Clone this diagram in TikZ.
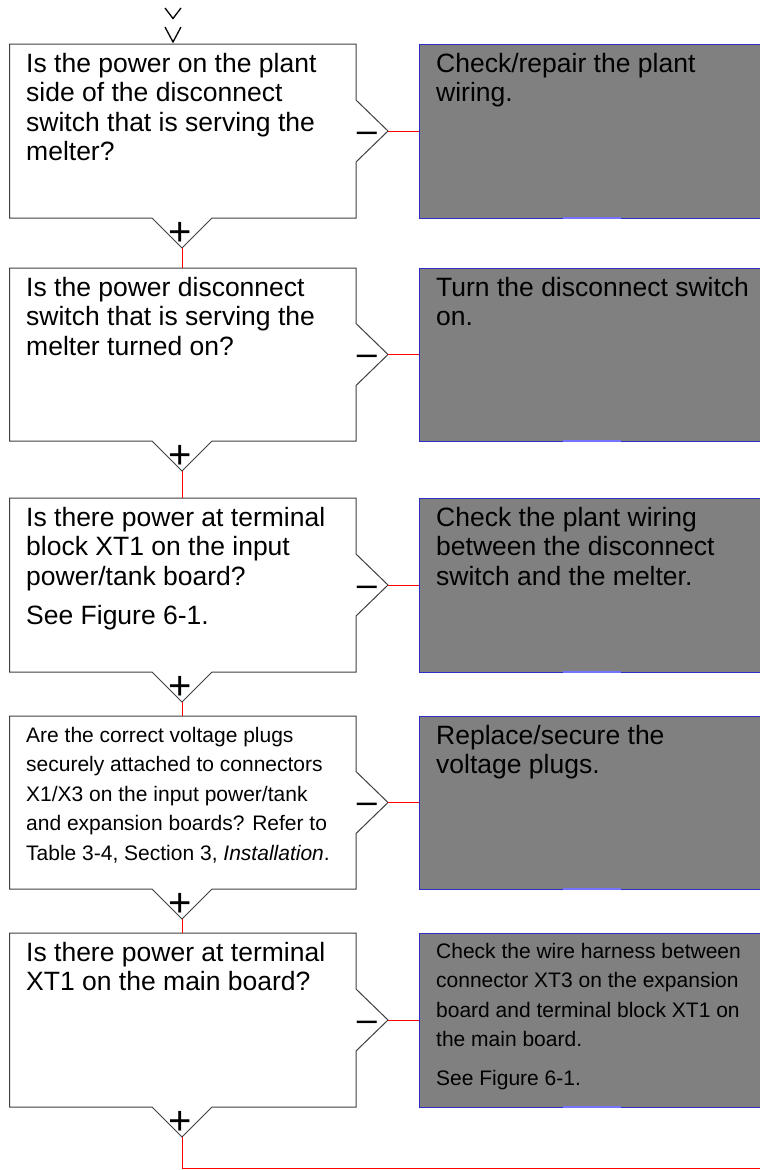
\documentclass[tikz,border=0pt]{standalone}
\usepackage{fontspec}
\setmainfont{Liberation Sans}
\definecolor{boxblue}{HTML}{2E2EC4}
\definecolor{lightblue}{HTML}{7474FF}
\definecolor{fillgray}{HTML}{808080}
\definecolor{qline}{HTML}{404040}
\newcommand\bigtxt{\fontsize{26.5}{29.5}\selectfont}
\newcommand\smalltxt{\fontsize{21}{29.5}\selectfont}
\tikzset{
  qshape/.style={draw=qline, line width=1pt, fill=white, line join=miter},
  ashape/.style={draw=boxblue, line width=1.2pt, fill=fillgray, inner sep=0pt, anchor=north west, minimum width=360pt},
  seam/.style={draw=lightblue, line width=1.2pt},
  link/.style={draw=red, line width=1pt},
  txt/.style={anchor=base west, inner sep=0pt},
  plussign/.style={inner sep=0pt, anchor=base, font=\fontsize{40}{40}\selectfont},
  minussign/.style={inner sep=0pt, anchor=base, font=\fontsize{36}{36}\selectfont},
  chev/.style={draw=black, line width=1.3pt},
}
% question box outline: name, top, bottom
\newcommand\qoutline[3]{%
  \pgfmathsetmacro\qmid{(#2+#3)/2}%
  \draw[qshape] (9.5,#2) -- (356,#2) -- (356,\qmid-31) -- (388,\qmid) -- (356,\qmid+31)
     -- (356,#3) -- (212,#3) -- (182,#3+30) -- (152,#3) -- (9.5,#3) -- cycle;
  \coordinate (#1-top) at (182,#2);
  \coordinate (#1-yes) at (182,#3+30);
  \coordinate (#1-no) at (388,\qmid);
  \node[plussign] (#1-plus) at (180,#3+27) {+};
  \node[minussign] (#1-minus) at (367,\qmid+11) {–};
}
% answer box: name, top, bottom
\newcommand\abox[3]{%
  \pgfmathsetmacro\ah{#3-#2}%
  \node[ashape, minimum height=\ah pt] (#1) at (419,#2) {};
  \draw[seam] (563,#3) -- (621,#3);
}
\begin{document}
\begin{tikzpicture}[x=1pt,y=-1pt]
\useasboundingbox (0,0) rectangle (760,1170);
\clip (0,0) rectangle (760,1170);
\fill[white] (0,0) rectangle (760,1170);

% incoming chevrons
\draw[chev] (165,8) -- (173,18.5) -- (181,8);
\draw[chev] (165,27) -- (173,42) -- (181,27);

% question boxes
\qoutline{q1}{44}{218}
\qoutline{q2}{268}{441}
\qoutline{q3}{498}{672}
\qoutline{q4}{716}{889}
\qoutline{q5}{933}{1107}

% answer boxes
\abox{a1}{44}{218}
\abox{a2}{268}{441}
\abox{a3}{498}{672}
\abox{a4}{716}{889}
\abox{a5}{933}{1107}

% question texts
\node[txt] (q1t) at (26,72) {\parbox[t]{330pt}{\bigtxt\raggedright
  Is the power on the plant\\side of the disconnect\\switch that is serving the\\melter?}};
\node[txt] (q2t) at (26,296) {\parbox[t]{330pt}{\bigtxt\raggedright
  Is the power disconnect\\switch that is serving the\\melter turned on?}};
\node[txt] (q3t) at (26,526) {\parbox[t]{330pt}{\bigtxt\raggedright
  Is there power at terminal\\block XT1 on the input\\power/tank board?\\[9.5pt]See Figure 6-1.}};
\node[txt] (q4t) at (26,742) {\parbox[t]{330pt}{\smalltxt\raggedright
  Are the correct voltage plugs\\securely attached to connectors\\X1/X3 on the input power/tank\\and expansion boards? Refer to\\Table 3-4, Section 3, \textit{Installation}.}};
\node[txt] (q5t) at (26,961) {\parbox[t]{330pt}{\bigtxt\raggedright
  Is there power at terminal\\XT1 on the main board?}};

% answer texts
\node[txt] (a1t) at (436,72) {\parbox[t]{330pt}{\bigtxt\raggedright
  Check/repair the plant\\wiring.}};
\node[txt] (a2t) at (436,296) {\parbox[t]{330pt}{\bigtxt\raggedright
  Turn the disconnect switch\\on.}};
\node[txt] (a3t) at (436,526) {\parbox[t]{330pt}{\bigtxt\raggedright
  Check the plant wiring\\between the disconnect\\switch and the melter.}};
\node[txt] (a4t) at (436,744) {\parbox[t]{330pt}{\bigtxt\raggedright
  Replace/secure the\\voltage plugs.}};
\node[txt] (a5t) at (436,958) {\parbox[t]{330pt}{\smalltxt\raggedright
  Check the wire harness between\\connector XT3 on the expansion\\board and terminal block XT1 on\\the main board.\\[9.5pt]See Figure 6-1.}};

% connectors
\draw[link] (q1-yes) -- (q2-top);
\draw[link] (q2-yes) -- (q3-top);
\draw[link] (q3-yes) -- (q4-top);
\draw[link] (q4-yes) -- (q5-top);
\coordinate (exit) at (182,1168.5);
\coordinate (exitR) at (770,1168.5);
\draw[link] (q5-yes) -- (exit) -- (exitR);
\foreach \i in {1,...,5}{
  \draw[link] (q\i-no) -- (a\i.west |- q\i-no);
}
\end{tikzpicture}
\end{document}
